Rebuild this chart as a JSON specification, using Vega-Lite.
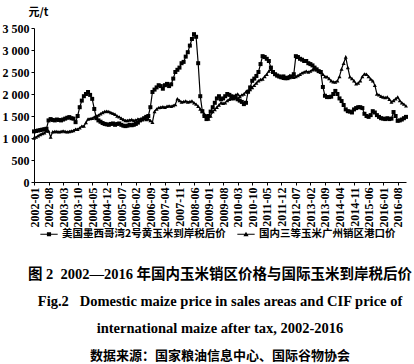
{
"$schema": "https://vega.github.io/schema/vega-lite/v6.json",
"background": "white",
"padding": {"left": 2, "top": 6, "right": 2, "bottom": 2},
"width": 372,
"height": 154,
"data": {"values": [
{"d":"2002-01","us":1150,"cn":1000},{"d":"2002-02","us":1160,"cn":1020},{"d":"2002-03","us":1170,"cn":1050},{"d":"2002-04","us":1180,"cn":1080},{"d":"2002-05","us":1190,"cn":1100},{"d":"2002-06","us":1200,"cn":1120},{"d":"2002-07","us":1210,"cn":1160},{"d":"2002-08","us":1400,"cn":1160},{"d":"2002-09","us":1430,"cn":1020},{"d":"2002-10","us":1410,"cn":1140},{"d":"2002-11","us":1400,"cn":1150},{"d":"2002-12","us":1420,"cn":1150},
{"d":"2003-01","us":1410,"cn":1140},{"d":"2003-02","us":1400,"cn":1150},{"d":"2003-03","us":1420,"cn":1160},{"d":"2003-04","us":1440,"cn":1150},{"d":"2003-05","us":1460,"cn":1140},{"d":"2003-06","us":1475,"cn":1150},{"d":"2003-07","us":1450,"cn":1160},{"d":"2003-08","us":1440,"cn":1170},{"d":"2003-09","us":1360,"cn":1200},{"d":"2003-10","us":1500,"cn":1200},{"d":"2003-11","us":1700,"cn":1230},{"d":"2003-12","us":1850,"cn":1270},
{"d":"2004-01","us":1950,"cn":1270},{"d":"2004-02","us":2000,"cn":1350},{"d":"2004-03","us":2045,"cn":1430},{"d":"2004-04","us":1980,"cn":1440},{"d":"2004-05","us":1890,"cn":1450},{"d":"2004-06","us":1660,"cn":1475},{"d":"2004-07","us":1450,"cn":1500},{"d":"2004-08","us":1400,"cn":1520},{"d":"2004-09","us":1370,"cn":1550},{"d":"2004-10","us":1340,"cn":1580},{"d":"2004-11","us":1320,"cn":1600},{"d":"2004-12","us":1310,"cn":1610},
{"d":"2005-01","us":1300,"cn":1600},{"d":"2005-02","us":1320,"cn":1580},{"d":"2005-03","us":1330,"cn":1560},{"d":"2005-04","us":1300,"cn":1540},{"d":"2005-05","us":1320,"cn":1500},{"d":"2005-06","us":1330,"cn":1480},{"d":"2005-07","us":1300,"cn":1450},{"d":"2005-08","us":1280,"cn":1420},{"d":"2005-09","us":1270,"cn":1400},{"d":"2005-10","us":1280,"cn":1400},{"d":"2005-11","us":1300,"cn":1410},{"d":"2005-12","us":1290,"cn":1420},
{"d":"2006-01","us":1300,"cn":1400},{"d":"2006-02","us":1320,"cn":1410},{"d":"2006-03","us":1350,"cn":1430},{"d":"2006-04","us":1400,"cn":1420},{"d":"2006-05","us":1420,"cn":1430},{"d":"2006-06","us":1450,"cn":1440},{"d":"2006-07","us":1480,"cn":1420},{"d":"2006-08","us":1500,"cn":1430},{"d":"2006-09","us":1700,"cn":1400},{"d":"2006-10","us":2045,"cn":1360},{"d":"2006-11","us":2100,"cn":1600},{"d":"2006-12","us":2150,"cn":1660},
{"d":"2007-01","us":2200,"cn":1690},{"d":"2007-02","us":2180,"cn":1700},{"d":"2007-03","us":2120,"cn":1710},{"d":"2007-04","us":2200,"cn":1700},{"d":"2007-05","us":2230,"cn":1720},{"d":"2007-06","us":2180,"cn":1730},{"d":"2007-07","us":2220,"cn":1720},{"d":"2007-08","us":2350,"cn":1740},{"d":"2007-09","us":2500,"cn":1760},{"d":"2007-10","us":2550,"cn":1890},{"d":"2007-11","us":2600,"cn":1850},{"d":"2007-12","us":2700,"cn":1820},
{"d":"2008-01","us":2730,"cn":1830},{"d":"2008-02","us":2850,"cn":1840},{"d":"2008-03","us":2950,"cn":1820},{"d":"2008-04","us":3100,"cn":1830},{"d":"2008-05","us":3250,"cn":1840},{"d":"2008-06","us":3360,"cn":1800},{"d":"2008-07","us":3300,"cn":1770},{"d":"2008-08","us":2700,"cn":1720},{"d":"2008-09","us":1950,"cn":1660},{"d":"2008-10","us":1610,"cn":1600},{"d":"2008-11","us":1500,"cn":1545},{"d":"2008-12","us":1430,"cn":1500},
{"d":"2009-01","us":1500,"cn":1430},{"d":"2009-02","us":1600,"cn":1500},{"d":"2009-03","us":1700,"cn":1600},{"d":"2009-04","us":1800,"cn":1650},{"d":"2009-05","us":1900,"cn":1700},{"d":"2009-06","us":1950,"cn":1750},{"d":"2009-07","us":1880,"cn":1800},{"d":"2009-08","us":1900,"cn":1790},{"d":"2009-09","us":1950,"cn":1800},{"d":"2009-10","us":2000,"cn":1850},{"d":"2009-11","us":1980,"cn":1880},{"d":"2009-12","us":1950,"cn":1900},
{"d":"2010-01","us":1900,"cn":1950},{"d":"2010-02","us":1920,"cn":1980},{"d":"2010-03","us":1880,"cn":2000},{"d":"2010-04","us":1850,"cn":1950},{"d":"2010-05","us":1820,"cn":1980},{"d":"2010-06","us":1770,"cn":2000},{"d":"2010-07","us":1800,"cn":2050},{"d":"2010-08","us":2050,"cn":2080},{"d":"2010-09","us":2150,"cn":2100},{"d":"2010-10","us":2300,"cn":2150},{"d":"2010-11","us":2350,"cn":2200},{"d":"2010-12","us":2410,"cn":2250},
{"d":"2011-01","us":2500,"cn":2300},{"d":"2011-02","us":2680,"cn":2330},{"d":"2011-03","us":2860,"cn":2340},{"d":"2011-04","us":2840,"cn":2400},{"d":"2011-05","us":2800,"cn":2450},{"d":"2011-06","us":2750,"cn":2520},{"d":"2011-07","us":2600,"cn":2560},{"d":"2011-08","us":2500,"cn":2500},{"d":"2011-09","us":2450,"cn":2450},{"d":"2011-10","us":2420,"cn":2420},{"d":"2011-11","us":2400,"cn":2400},{"d":"2011-12","us":2380,"cn":2380},
{"d":"2012-01","us":2400,"cn":2360},{"d":"2012-02","us":2370,"cn":2350},{"d":"2012-03","us":2360,"cn":2380},{"d":"2012-04","us":2380,"cn":2420},{"d":"2012-05","us":2400,"cn":2400},{"d":"2012-06","us":2450,"cn":2380},{"d":"2012-07","us":2860,"cn":2400},{"d":"2012-08","us":2840,"cn":2420},{"d":"2012-09","us":2800,"cn":2450},{"d":"2012-10","us":2780,"cn":2480},{"d":"2012-11","us":2750,"cn":2500},{"d":"2012-12","us":2750,"cn":2520},
{"d":"2013-01","us":2700,"cn":2500},{"d":"2013-02","us":2680,"cn":2520},{"d":"2013-03","us":2650,"cn":2550},{"d":"2013-04","us":2600,"cn":2570},{"d":"2013-05","us":2560,"cn":2550},{"d":"2013-06","us":2520,"cn":2520},{"d":"2013-07","us":2500,"cn":2500},{"d":"2013-08","us":2160,"cn":2450},{"d":"2013-09","us":1960,"cn":2400},{"d":"2013-10","us":1930,"cn":2390},{"d":"2013-11","us":1930,"cn":2350},{"d":"2013-12","us":1940,"cn":2300},
{"d":"2014-01","us":2000,"cn":2280},{"d":"2014-02","us":2070,"cn":2270},{"d":"2014-03","us":2000,"cn":2300},{"d":"2014-04","us":1900,"cn":2400},{"d":"2014-05","us":1840,"cn":2570},{"d":"2014-06","us":1750,"cn":2700},{"d":"2014-07","us":1650,"cn":2840},{"d":"2014-08","us":1610,"cn":2600},{"d":"2014-09","us":1600,"cn":2390},{"d":"2014-10","us":1580,"cn":2350},{"d":"2014-11","us":1650,"cn":2300},{"d":"2014-12","us":1680,"cn":2230},
{"d":"2015-01","us":1700,"cn":2250},{"d":"2015-02","us":1700,"cn":2300},{"d":"2015-03","us":1680,"cn":2400},{"d":"2015-04","us":1550,"cn":2455},{"d":"2015-05","us":1500,"cn":2450},{"d":"2015-06","us":1480,"cn":2400},{"d":"2015-07","us":1520,"cn":2340},{"d":"2015-08","us":1610,"cn":2300},{"d":"2015-09","us":1580,"cn":2200},{"d":"2015-10","us":1520,"cn":2000},{"d":"2015-11","us":1480,"cn":1980},{"d":"2015-12","us":1450,"cn":1950},
{"d":"2016-01","us":1440,"cn":1930},{"d":"2016-02","us":1430,"cn":1920},{"d":"2016-03","us":1450,"cn":1930},{"d":"2016-04","us":1430,"cn":1880},{"d":"2016-05","us":1440,"cn":1820},{"d":"2016-06","us":1590,"cn":1850},{"d":"2016-07","us":1500,"cn":1890},{"d":"2016-08","us":1390,"cn":1930},{"d":"2016-09","us":1400,"cn":1850},{"d":"2016-10","us":1420,"cn":1800},{"d":"2016-11","us":1450,"cn":1770},{"d":"2016-12","us":1480,"cn":1730}
]},
"transform": [{"fold": ["us", "cn"], "as": ["s", "v"]}],
"title": {
  "text": ["图 2\u20022002—2016 年国内玉米销区价格与国际玉米到岸税后价", "Fig.2\u2002 Domestic maize price in sales areas and CIF price of", "international maize after tax, 2002-2016"],
  "subtitle": "数据来源：国家粮油信息中心、国际谷物协会",
  "orient": "bottom", "anchor": "middle",
  "font": "Liberation Serif, Noto Sans CJK SC", "fontSize": 14.5, "fontWeight": "bold", "color": "black", "lineHeight": 27,
  "subtitleFont": "Noto Sans CJK SC", "subtitleFontSize": 13, "subtitleFontWeight": "bold", "subtitleColor": "black", "subtitlePadding": 13,
  "offset": 22
},
"encoding": {
  "x": {"field": "d", "type": "ordinal", "scale": {"type": "point", "padding": 0},
    "axis": {"title": null, "labelAngle": -90,
      "values": ["2002-01","2002-08","2003-03","2003-10","2004-05","2004-12","2005-07","2006-02","2006-09","2007-04","2007-11","2008-06","2009-01","2009-08","2010-03","2010-10","2011-05","2011-12","2012-07","2013-02","2013-09","2014-04","2014-11","2015-06","2016-01","2016-08"]}},
  "y": {"field": "v", "type": "quantitative", "scale": {"domain": [0, 3500]},
    "axis": {"values": [0,500,1000,1500,2000,2500,3000,3500], "labelExpr": "replace(format(datum.value, ','), ',', ' ')",
      "title": "元/t", "titleAngle": 0, "titleAlign": "left", "titleBaseline": "middle", "titleX": -6, "titleY": -16,
      "titleFont": "Noto Sans CJK SC", "titleFontSize": 11, "titleFontWeight": "bold"}}
},
"layer": [
  {"mark": {"type": "line", "color": "black", "strokeWidth": 1.2}, "encoding": {"detail": {"field": "s"}}},
  {"mark": {"type": "point", "filled": true, "color": "black", "size": 16, "opacity": 1},
   "encoding": {"shape": {"field": "s", "type": "nominal", "scale": {"domain": ["us", "cn"], "range": ["square", "triangle-up"]}, "legend": null}}},
  {"mark": {"type": "point", "filled": true, "color": "black", "opacity": 0},
   "encoding": {"shape": {"field": "s", "type": "nominal",
     "scale": {"domain": ["us", "cn"], "range": ["M-1,-0.045H-0.24V-0.24H0.24V-0.045H1V0.045H0.24V0.24H-0.24V0.045H-1Z", "M-1,-0.045H1V0.045H-1ZM0,-0.3L0.3,0.24H-0.3Z"]},
     "legend": {"title": null, "orient": "bottom", "direction": "horizontal", "symbolSize": 300, "symbolStrokeWidth": 0, "symbolOpacity": 1,
       "symbolFillColor": "black", "columnPadding": 11, "labelLimit": 300, "offset": -8, "padding": 6,
       "labelExpr": "datum.value == 'us' ? '美国墨西哥湾2号黄玉米到岸税后价' : '国内三等玉米广州销区港口价'"}}}}
],
"resolve": {"scale": {"shape": "independent"}},
"config": {
  "view": {"stroke": null},
  "axis": {"grid": false, "domainColor": "black", "tickColor": "black", "labelColor": "black", "titleColor": "black", "labelFont": "Liberation Serif", "labelFontWeight": "bold", "labelFontSize": 12, "tickSize": 3, "labelPadding": 2},
  "legend": {"labelFont": "Noto Sans CJK SC", "labelFontSize": 10.5, "labelFontWeight": "bold", "labelColor": "black"}
}
}
